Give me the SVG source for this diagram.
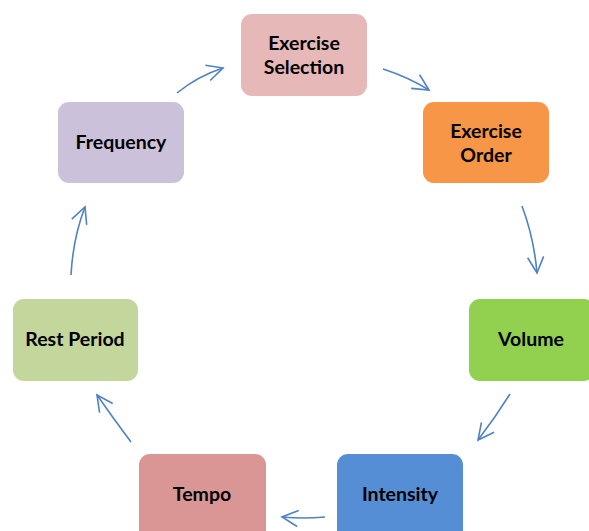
<svg xmlns="http://www.w3.org/2000/svg" width="589" height="531" viewBox="0 0 589 531">
<style>
.box{stroke:none}
.t{font-family:Lato,"Liberation Sans",sans-serif;font-weight:bold;font-size:19.5px;fill:#000;text-anchor:middle}
.c{fill:none;stroke:#4F81C5;stroke-width:1.6;marker-end:url(#ah)}
</style>
<defs>
<marker id="ah" markerUnits="userSpaceOnUse" markerWidth="30" markerHeight="30" refX="0" refY="0" viewBox="-20 -15 30 30" orient="auto" overflow="visible">
<path d="M-16,-8 L0,0 L-16,8" fill="none" stroke="#4F81C5" stroke-width="1.6"/>
</marker>
</defs>
<rect width="589" height="531" fill="#fff"/>
<g id="exercise-selection"><rect class="box" x="241" y="14" width="126" height="82" rx="11" fill="#E6B9B8"/><text class="t" x="304" y="50">Exercise</text><text class="t" x="304" y="74">Selection</text></g>
<g id="exercise-order"><rect class="box" x="423" y="102" width="126" height="81" rx="11" fill="#F79646"/><text class="t" x="486" y="138">Exercise</text><text class="t" x="486" y="162">Order</text></g>
<g id="volume"><rect class="box" x="469" y="299" width="126" height="82" rx="11" fill="#92D050"/><text class="t" x="531" y="346">Volume</text></g>
<g id="intensity"><rect class="box" x="337" y="454" width="126" height="90" rx="11" fill="#558ED5"/><text class="t" x="400" y="501">Intensity</text></g>
<g id="tempo"><rect class="box" x="139" y="454" width="127" height="90" rx="11" fill="#D99694"/><text class="t" x="202" y="501">Tempo</text></g>
<g id="rest-period"><rect class="box" x="13" y="299" width="125" height="82" rx="11" fill="#C3D69B"/><text class="t" x="75" y="346">Rest Period</text></g>
<g id="frequency"><rect class="box" x="58" y="102" width="126" height="81" rx="11" fill="#CCC1DA"/><text class="t" x="121" y="149">Frequency</text></g>
<g id="connectors">
<path class="c" d="M383,69 Q408,77 429,90"/>
<path class="c" d="M522,206 Q534,238 537,273"/>
<path class="c" d="M510,394 Q495,418 478,440"/>
<path class="c" d="M325,517 Q303,519 282,517"/>
<path class="c" d="M131,442 Q113,418 97,395"/>
<path class="c" d="M71,275 Q73,238 85,207"/>
<path class="c" d="M177,93 Q198,76 223,68"/>
</g>
</svg>
